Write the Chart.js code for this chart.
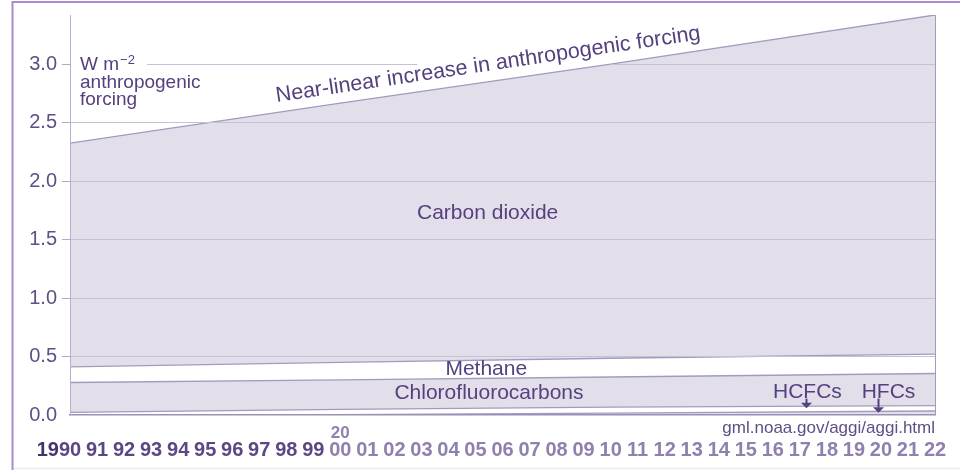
<!DOCTYPE html>
<html>
<head>
<meta charset="utf-8">
<script src="https://cdn.jsdelivr.net/npm/chart.js@4.4.1/dist/chart.umd.min.js"></script>
<style>
  html, body { margin: 0; padding: 0; background: #ffffff; }
  #wrap { width: 960px; height: 470px; }
</style>
</head>
<body>
<div id="wrap"><canvas id="chart" width="960" height="470"></canvas></div>
<script>
// Radiative forcing by gas (W m-2), stacked from the bottom up
const years = [1990, 2000, 2010, 2022];
const hfcs          = [0.000, 0.004, 0.016, 0.034];
const hcfcs         = [0.022, 0.044, 0.052, 0.047];
const cfcs          = [0.256, 0.252, 0.257, 0.274];
const methane       = [0.134, 0.150, 0.160, 0.165];
const carbonDioxide = [1.913, 2.217, 2.515, 2.900];

const yTicks = [0.0, 0.5, 1.0, 1.5, 2.0, 2.5, 3.0];
const yearTicks = [1990, 1991, 1992, 1993, 1994, 1995, 1996, 1997, 1998, 1999,
                   2000, 2001, 2002, 2003, 2004, 2005, 2006, 2007, 2008, 2009,
                   2010, 2011, 2012, 2013, 2014, 2015, 2016, 2017, 2018, 2019,
                   2020, 2021, 2022];
const yearLabels = ['90', '91', '92', '93', '94', '95', '96', '97', '98', '99',
                    '00', '01', '02', '03', '04', '05', '06', '07', '08', '09',
                    '10', '11', '12', '13', '14', '15', '16', '17', '18', '19',
                    '20', '21', '22'];

const SANS = '"Liberation Sans", Arial, sans-serif';
const FILL = '#e2dfea';
const EDGE = '#a59abe';
const GRID = '#c9c0d8';
const INK = '#56407f';
const NONE = 'rgba(0,0,0,0)';

const points = arr => years.map((yr, i) => ({ x: yr, y: arr[i] }));

function band(label, values, fill) {
  return {
    label,
    data: points(values),
    fill,
    backgroundColor: FILL,
    borderColor: EDGE,
    borderWidth: 1.3,
    pointRadius: 0,
    tension: 0
  };
}

const annotate = {
  id: 'annotate',
  afterDraw(chart) {
    const { ctx, chartArea: area, scales: { x, y } } = chart;
    const px = v => x.getPixelForValue(v);
    const py = v => y.getPixelForValue(v);
    ctx.save();

    // page frame
    ctx.strokeStyle = '#ece8f2';
    ctx.lineWidth = 1.5;
    ctx.beginPath(); ctx.moveTo(12, 468.5); ctx.lineTo(960, 468.5); ctx.stroke();
    ctx.strokeStyle = '#aa8ad1';
    ctx.lineWidth = 2;
    ctx.beginPath(); ctx.moveTo(12.5, 470); ctx.lineTo(12.5, 2); ctx.lineTo(960, 2); ctx.stroke();

    // 3.0 gridline, broken around the headline text
    const y3 = Math.round(py(3.0)) + 0.5;
    ctx.strokeStyle = GRID;
    ctx.lineWidth = 1;
    [[1992.85, 2002.85], [2010.0, 2022]].forEach(([a, b]) => {
      ctx.beginPath(); ctx.moveTo(px(a), y3); ctx.lineTo(px(b), y3); ctx.stroke();
    });

    ctx.fillStyle = INK;
    const text = (str, xv, yv, size, align = 'center', base = 'middle') => {
      ctx.font = size + 'px ' + SANS;
      ctx.textAlign = align;
      ctx.textBaseline = base;
      ctx.fillText(str, px(xv), py(yv));
    };

    // unit label
    ctx.font = '19px ' + SANS;
    ctx.textAlign = 'left';
    ctx.textBaseline = 'alphabetic';
    const ux = px(1990.37), uy = py(2.949);
    ctx.fillText('W m', ux, uy);
    const wm = ctx.measureText('W m').width;
    ctx.font = '13px ' + SANS;
    ctx.fillText('\u22122', ux + wm + 1, uy - 6);
    ctx.font = '19px ' + SANS;
    ctx.fillText('anthropogenic', ux, uy + 17.5);
    ctx.fillText('forcing', ux, uy + 35);

    // headline along the top edge
    const top = chart.getDatasetMeta(4).data;
    const p0 = top[0], p1 = top[top.length - 1];
    const ang = Math.atan2(p1.y - p0.y, p1.x - p0.x);
    ctx.save();
    ctx.translate(px(2005.5), py(2.944));
    ctx.rotate(ang);
    ctx.font = '21.5px ' + SANS;
    ctx.textAlign = 'center';
    ctx.textBaseline = 'alphabetic';
    ctx.fillText('Near-linear increase in anthropogenic forcing', 0, 0);
    ctx.restore();

    text('Carbon dioxide', 2005.45, 1.727, 21);
    text('Methane', 2005.4, 0.393, 21);
    text('Chlorofluorocarbons', 2005.5, 0.185, 21);
    text('HCFCs', 2017.28, 0.192, 21);
    text('HFCs', 2020.28, 0.192, 21);

    // arrows into the thin bands
    const arrow = (xv, fromV, toV) => {
      const ax = Math.round(px(xv)) + 0.5, y0 = py(fromV), y1 = py(toV);
      ctx.strokeStyle = INK;
      ctx.lineWidth = 2;
      ctx.beginPath(); ctx.moveTo(ax, y0); ctx.lineTo(ax, y1 - 5); ctx.stroke();
      ctx.beginPath();
      ctx.moveTo(ax - 5.5, y1 - 5.5); ctx.lineTo(ax + 5.5, y1 - 5.5); ctx.lineTo(ax, y1);
      ctx.closePath(); ctx.fill();
    };
    arrow(2017.22, 0.14, 0.057);
    arrow(2019.9, 0.14, 0.020);

    // source
    ctx.font = '17px ' + SANS;
    ctx.fillStyle = '#5f4e87';
    ctx.textAlign = 'right';
    ctx.textBaseline = 'alphabetic';
    ctx.fillText('gml.noaa.gov/aggi/aggi.html', area.right, area.bottom + 18);

    // century prefixes on the year axis
    const items = x.getLabelItems();
    const first = items[0];
    const [tx, ty] = first.options.translation;
    ctx.font = first.font.string;
    const w90 = ctx.measureText(yearLabels[0]).width;
    ctx.fillStyle = '#46326a';
    ctx.textAlign = 'right';
    ctx.textBaseline = first.options.textBaseline;
    ctx.fillText('19', tx - w90 / 2, ty + (first.textOffset || 0));
    ctx.font = 'bold 17px ' + SANS;
    ctx.fillStyle = '#8f80ad';
    ctx.textAlign = 'center';
    ctx.textBaseline = 'alphabetic';
    ctx.fillText('20', px(2000), area.bottom + 23);

    ctx.restore();
  }
};

new Chart(document.getElementById('chart'), {
  type: 'line',
  data: {
    datasets: [
      band('HFCs', hfcs, 'origin'),
      band('HCFCs', hcfcs, false),
      band('Chlorofluorocarbons', cfcs, '-1'),
      band('Methane', methane, false),
      band('Carbon dioxide', carbonDioxide, '-1')
    ]
  },
  options: {
    responsive: false,
    devicePixelRatio: 1,
    animation: false,
    layout: { padding: { left: 0, right: 25, top: 15, bottom: 0 } },
    plugins: { legend: { display: false }, tooltip: { enabled: false } },
    scales: {
      x: {
        type: 'linear',
        min: 1990,
        max: 2022,
        afterBuildTicks: s => { s.ticks = yearTicks.map(v => ({ value: v })); },
        afterFit: s => { s.height = 55; s.paddingLeft = 0; s.paddingRight = 0; },
        ticks: {
          autoSkip: false,
          maxRotation: 0,
          padding: 23,
          font: { family: SANS, size: 20, weight: 'bold' },
          color: c => (c.tick && c.tick.value < 2000) ? '#5a4783' : '#8f80ad',
          callback: (v, i) => yearLabels[i]
        },
        grid: {
          z: 1,
          drawTicks: false,
          lineWidth: 1,
          color: c => (c.tick && c.tick.value === 2022) ? EDGE : NONE
        },
        border: { z: 1, display: true, color: '#9c8fb8', width: 1.5 }
      },
      y: {
        type: 'linear',
        stacked: true,
        min: 0,
        max: 3.42,
        afterBuildTicks: s => { s.ticks = yTicks.map(v => ({ value: v })); },
        afterFit: s => { s.width = 70; s.paddingTop = 0; s.paddingBottom = 0; },
        ticks: {
          padding: 5,
          font: { family: SANS, size: 20 },
          color: '#5f4e87',
          callback: v => v.toFixed(1)
        },
        grid: {
          z: 1,
          tickLength: 8,
          lineWidth: 1,
          color: c => (c.tick && (c.tick.value === 0 || c.tick.value === 3)) ? NONE : GRID,
          tickColor: c => (c.tick && c.tick.value === 0) ? NONE : '#b3a7ca'
        },
        border: { z: 1, display: true, color: '#b9aecf', width: 1 }
      }
    }
  },
  plugins: [annotate]
});
</script>
</body>
</html>
